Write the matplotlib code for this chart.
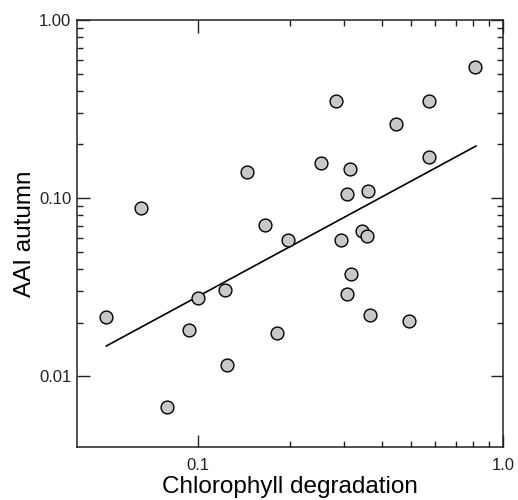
import numpy as np
import matplotlib
matplotlib.use("Agg")
import matplotlib.pyplot as plt
from matplotlib.ticker import FixedLocator, FixedFormatter, NullFormatter

plt.rcParams['font.family'] = ['Liberation Sans', 'DejaVu Sans']

##################################
# Data
chl = np.array([0.065, 0.145, 0.165, 0.809, 0.283, 0.571, 0.446, 0.571, 0.253,
                0.315, 0.308, 0.360, 0.345, 0.358, 0.197, 0.294, 0.0499, 0.100,
                0.1226, 0.0934, 0.1245, 0.0791, 0.318, 0.308, 0.366, 0.492, 0.1816])
aai = np.array([0.0879, 0.140, 0.0705, 0.545, 0.351, 0.351, 0.261, 0.170, 0.157,
                0.146, 0.105, 0.109, 0.0653, 0.0612, 0.0581, 0.0581, 0.0214, 0.0274,
                0.0304, 0.0181, 0.01153, 0.0067, 0.0374, 0.0289, 0.0220, 0.0204, 0.01745])
fit_x = [0.0499, 0.8155] #regression line end points
fit_y = [0.01476, 0.196]

x_major = [0.1, 1.0]
x_major_labels = ['0.1', '1.0']
x_minor = [0.2, 0.3, 0.4, 0.5, 0.6, 0.7, 0.8, 0.9]
y_major = [0.01, 0.1, 1.0]
y_major_labels = ['0.01', '0.10', '1.00']
y_minor = [0.02, 0.03, 0.04, 0.05, 0.06, 0.07, 0.08, 0.09,
           0.2, 0.3, 0.4, 0.5, 0.6, 0.7, 0.8, 0.9]

##################################
# Plot
fig = plt.figure(figsize=(5.18, 5.0), dpi=100)
ax = fig.add_axes([0.1486, 0.106, 0.8224, 0.854])
ax.plot(fit_x, fit_y, color='k', linewidth=1.2, zorder=2)
ax.scatter(chl, aai, s=85, facecolor='#c8c8c8', edgecolor='k', linewidth=1.0, zorder=3)
ax.set_xscale('log')
ax.set_yscale('log')
ax.set_xlim(0.04, 1.0)
ax.set_ylim(0.004, 1.0)

ax.xaxis.set_major_locator(FixedLocator(x_major))
ax.xaxis.set_major_formatter(FixedFormatter(x_major_labels))
ax.xaxis.set_minor_locator(FixedLocator(x_minor))
ax.xaxis.set_minor_formatter(NullFormatter())
ax.yaxis.set_major_locator(FixedLocator(y_major))
ax.yaxis.set_major_formatter(FixedFormatter(y_major_labels))
ax.yaxis.set_minor_locator(FixedLocator(y_minor))
ax.yaxis.set_minor_formatter(NullFormatter())

ax.tick_params(which='both', direction='in', top=True, right=True, width=1.0, colors='#222222')
ax.tick_params(which='major', length=9, labelsize=12)
ax.tick_params(which='minor', length=4.5)
ax.tick_params(axis='x', which='major', pad=8)
ax.tick_params(axis='y', which='major', pad=4)
for sp in ax.spines.values():
    sp.set_linewidth(1.1)
    sp.set_color('#222222')

ax.set_xlabel('Chlorophyll degradation', fontsize=17.5, labelpad=2)
ax.set_ylabel('AAI autumn', fontsize=17.5, labelpad=2)

fig.savefig('out.png', dpi=100)
